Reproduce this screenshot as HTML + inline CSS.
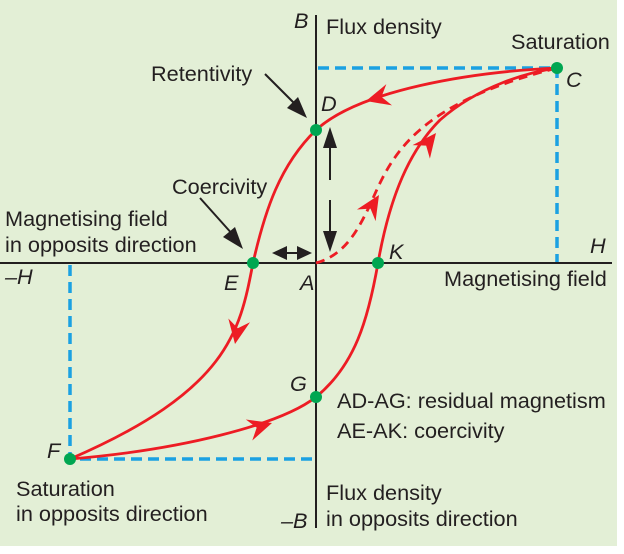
<!DOCTYPE html>
<html><head><style>body{margin:0;background:#fff}svg{display:block}text{font-family:"Liberation Sans",sans-serif;font-size:21.7px;fill:#231f20}.i{font-style:italic}</style></head><body>
<svg width="624" height="554" viewBox="0 0 624 554">
<rect x="0" y="0" width="617" height="546" fill="#e3efd6"/>
<g stroke="#1ba1e2" stroke-width="3.5" stroke-dasharray="11,6" fill="none">
<path d="M318,68H557V263"/><path d="M70,265V459H314"/>
</g>
<g stroke="#231f20" stroke-width="2">
<line x1="316" y1="15" x2="316" y2="528"/><line x1="0" y1="263" x2="612" y2="263"/>
</g>
<g fill="none" stroke="#ed1c24" stroke-width="2.8">
<path d="M557,68 C470,72 360,90 316,130 C280,165 265,210 253,263 C240,330 230,390 70,459"/>
<path d="M70,459 C180,450 280,425 316,397 C355,365 368,320 378,263 C390,195 410,150 440,120 C480,85 530,72 557,68"/>
<path d="M316,263 C345,255 358,230 370,205 C390,160 410,105 557,68" stroke-dasharray="9,6"/>
</g>
<g fill="#ed1c24">
<polygon points="0,0 -24,-11 -16,0 -24,11" transform="translate(366,101) rotate(165)"/>
<polygon points="0,0 -24,-11 -16,0 -24,11" transform="translate(235,344) rotate(100)"/>
<polygon points="0,0 -24,-11 -16,0 -24,11" transform="translate(272,423) rotate(-17)"/>
<polygon points="0,0 -24,-11 -16,0 -24,11" transform="translate(436,133) rotate(-52)"/>
<polygon points="0,0 -24,-11 -16,0 -24,11" transform="translate(379,195) rotate(-58)"/>
</g>
<g stroke="#231f20" stroke-width="2" fill="#231f20">
<line x1="265" y1="74" x2="298" y2="107"/><polygon points="307,118 287,108 298,97" stroke="none"/>
<line x1="200" y1="198" x2="234" y2="236"/><polygon points="243,249 223,237 235,227" stroke="none"/>
<line x1="282" y1="253" x2="302" y2="253"/><polygon points="272,253 287,246 287,260" stroke="none"/><polygon points="312,253 297,246 297,260" stroke="none"/>
<line x1="330" y1="142" x2="330" y2="180"/><polygon points="330,127 323,148 337,148" stroke="none"/>
<line x1="330" y1="200" x2="330" y2="236"/><polygon points="330,252 323,231 337,231" stroke="none"/>
</g>
<g fill="#00a651">
<circle cx="316" cy="130" r="6"/><circle cx="557" cy="68" r="6"/><circle cx="253" cy="263" r="6"/><circle cx="378" cy="263" r="6"/><circle cx="316" cy="397" r="6"/><circle cx="70" cy="459" r="6"/>
</g>
<text x="294" y="28" class="i">B</text><text x="326" y="34">Flux density</text>
<text x="511" y="49">Saturation</text><text x="566" y="87" class="i">C</text>
<text x="151" y="81">Retentivity</text><text x="321" y="111" class="i">D</text>
<text x="172" y="194">Coercivity</text>
<text x="5" y="226">Magnetising field</text><text x="5" y="252">in opposits direction</text>
<text x="5" y="284" class="i">–H</text><text x="224" y="290" class="i">E</text><text x="300" y="290" class="i">A</text>
<text x="389" y="259" class="i">K</text><text x="590" y="253" class="i">H</text>
<text x="444" y="286">Magnetising field</text>
<text x="290" y="391" class="i">G</text>
<text x="337" y="408">AD-AG: residual magnetism</text><text x="337" y="438">AE-AK: coercivity</text>
<text x="47" y="458" class="i">F</text>
<text x="16" y="496">Saturation</text><text x="16" y="521">in opposits direction</text>
<text x="326" y="500">Flux density</text><text x="326" y="526">in opposits direction</text>
<text x="281" y="528" class="i">–B</text>
</svg>
</body></html>
